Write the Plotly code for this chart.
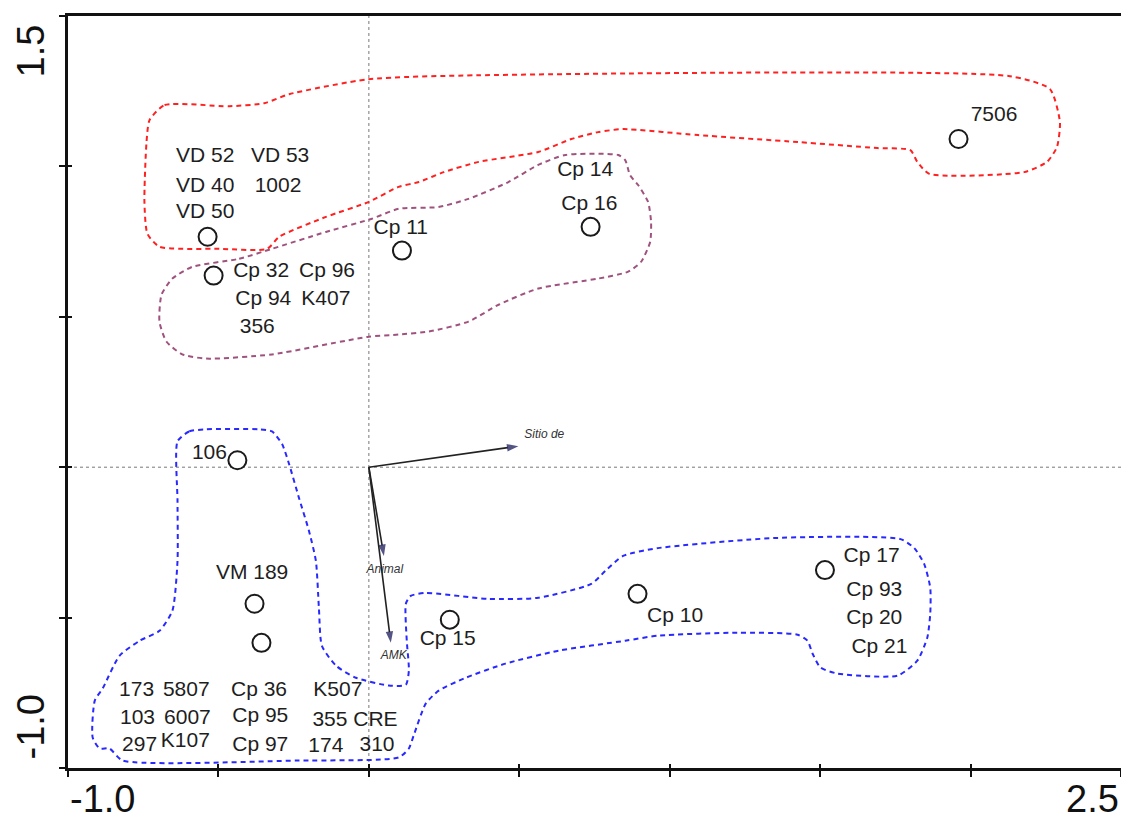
import plotly.graph_objects as go

# ---------------- data ----------------
# sample points (ordination scores)
pt_x = [-0.536, -0.516, 0.110, 0.737, 1.960, -0.437, -0.380, -0.357, 0.269, 0.893, 1.516]
pt_y = [0.766, 0.637, 0.720, 0.799, 1.091, 0.023, -0.454, -0.584, -0.507, -0.421, -0.342]

# labels for the points
lab_text = ["VD 52", "VD 53", "VD 40", "1002", "VD 50",
            "Cp 32", "Cp 96", "Cp 94", "K407", "356",
            "Cp 11", "Cp 14", "Cp 16", "7506", "106", "VM 189",
            "Cp 15", "Cp 10", "Cp 17", "Cp 93", "Cp 20", "Cp 21",
            "173", "5807", "Cp 36", "K507",
            "103", "6007", "Cp 95", "355 CRE",
            "297", "K107", "Cp 97", "174", "310"]
lab_x = [-0.544, -0.295, -0.544, -0.302, -0.544,
         -0.358, -0.139, -0.351, -0.143, -0.371,
         0.106, 0.719, 0.733, 2.078, -0.530, -0.388,
         0.262, 1.018, 1.671, 1.680, 1.680, 1.697,
         -0.772, -0.607, -0.365, -0.103,
         -0.769, -0.603, -0.361, -0.046,
         -0.762, -0.610, -0.361, -0.143, 0.027]
lab_y = [1.031, 1.031, 0.932, 0.932, 0.846,
         0.650, 0.650, 0.557, 0.557, 0.464,
         0.792, 0.985, 0.872, 1.167, 0.046, -0.355,
         -0.574, -0.497, -0.298, -0.411, -0.504, -0.600,
         -0.743, -0.743, -0.743, -0.743,
         -0.836, -0.836, -0.829, -0.842,
         -0.925, -0.912, -0.925, -0.928, -0.925]

# environmental vectors
vec_names = ["Sitio de", "Animal", "AMK"]
vec_x = [0.497, 0.050, 0.073]
vec_y = [0.070, -0.295, -0.584]
vec_lab_x = [0.583, 0.053, 0.083]
vec_lab_y = [0.106, -0.342, -0.627]

# group envelopes
red_x = [-0.729, -0.679, -0.464, -0.348, -0.265, 0.000, 0.365, 2.131, 2.264, 2.297, 2.287,
         2.254, 2.178, 1.863, 1.823, 1.800, 1.690, 1.425, 1.094, 0.845, 0.762, 0.673, 0.563,
         0.365, 0.249, 0.166, 0.099, 0.000, -0.143, -0.298, -0.338, -0.497, -0.696, -0.736,
         -0.746, -0.739, -0.729]
red_y = [1.154, 1.204, 1.200, 1.210, 1.240, 1.290, 1.303, 1.300, 1.257, 1.147, 1.064,
         1.015, 0.981, 0.975, 1.015, 1.054, 1.061, 1.081, 1.104, 1.124, 1.114, 1.091, 1.048,
         1.015, 0.981, 0.948, 0.932, 0.882, 0.832, 0.766, 0.726, 0.726, 0.733, 0.776,
         0.882, 1.081, 1.154]

pur_x = [-0.587, -0.431, -0.322, -0.143, 0.010, 0.099, 0.232, 0.331, 0.464, 0.563, 0.653,
         0.829, 0.852, 0.868, 0.895, 0.928, 0.938, 0.935, 0.905, 0.862, 0.762, 0.563, 0.431,
         0.331, 0.199, 0.099, 0.000, -0.322, -0.540, -0.620, -0.673, -0.696, -0.689, -0.653,
         -0.587]
pur_y = [0.666, 0.693, 0.726, 0.782, 0.826, 0.859, 0.865, 0.892, 0.948, 1.005, 1.038,
         1.038, 1.021, 0.971, 0.938, 0.882, 0.816, 0.749, 0.683, 0.650, 0.627, 0.594, 0.540,
         0.484, 0.451, 0.441, 0.434, 0.375, 0.361, 0.375, 0.418, 0.484, 0.574, 0.627,
         0.666]

blu_x = [-0.636, -0.597, -0.540, -0.365, -0.322, -0.288, -0.265, -0.232, -0.199, -0.176,
         -0.166, -0.156, -0.109, -0.043, 0.066, 0.123, 0.133, 0.126, 0.123, 0.139, 0.189,
         0.398, 0.563, 0.739, 0.786, 0.845, 0.961, 1.359, 1.767, 1.813, 1.846, 1.866, 1.866,
         1.856, 1.823, 1.757, 1.558, 1.501, 1.475, 1.458, 1.425, 1.226, 0.961, 0.852, 0.630,
         0.454, 0.322, 0.232, 0.189, 0.149, 0.133, 0.099, -0.232, -0.819, -0.862, -0.895,
         -0.918, -0.911, -0.885, -0.829, -0.762, -0.696, -0.653, -0.636, -0.636, -0.636]
blu_y = [0.086, 0.119, 0.126, 0.126, 0.119, 0.076, 0.010, -0.103, -0.212, -0.312,
         -0.468, -0.594, -0.660, -0.700, -0.726, -0.723, -0.676, -0.577, -0.454, -0.428, -0.418,
         -0.438, -0.434, -0.388, -0.345, -0.295, -0.269, -0.235, -0.239, -0.269, -0.322, -0.401,
         -0.487, -0.567, -0.643, -0.693, -0.686, -0.666, -0.620, -0.577, -0.557, -0.550, -0.560,
         -0.577, -0.610, -0.653, -0.700, -0.743, -0.786, -0.892, -0.935, -0.965, -0.975, -0.975,
         -0.935, -0.935, -0.899, -0.776, -0.736, -0.627, -0.577, -0.544, -0.477, -0.312, -0.113,
         0.086]

x_ticks = [-1.0, -0.5, 0.0, 0.5, 1.0, 1.5, 2.0, 2.5]
y_ticks = [-1.0, -0.5, 0.0, 0.5, 1.0, 1.5]
x_range = [-1.0, 2.5]
y_range = [-1.0, 1.5]

# ---------------- figure ----------------
fig = go.Figure()

TXT = "#1e1e1e"
FONT = "Liberation Sans, Arial, sans-serif"

for hx, hy, col in [(red_x, red_y, "#ff2020"), (pur_x, pur_y, "#a0527e"), (blu_x, blu_y, "#2828ff")]:
    fig.add_trace(go.Scatter(x=hx, y=hy, mode="lines",
                             line=dict(color=col, width=2, dash="5px,4px", shape="spline", smoothing=0.6),
                             hoverinfo="skip", showlegend=False))

# vectors
for i, name in enumerate(vec_names):
    fig.add_trace(go.Scatter(x=[0, vec_x[i]], y=[0, vec_y[i]], mode="lines+markers",
                             line=dict(color="#222222", width=1.6),
                             marker=dict(symbol="arrow", angleref="previous", size=[0, 12],
                                         color="#0c0c50", line=dict(width=0)),
                             showlegend=False, hoverinfo="skip"))
fig.add_trace(go.Scatter(x=vec_lab_x, y=vec_lab_y, mode="text", text=vec_names,
                         textfont=dict(family=FONT, size=12, color="#333333", style="italic"),
                         showlegend=False, hoverinfo="skip"))

# points
fig.add_trace(go.Scatter(x=pt_x, y=pt_y, mode="markers",
                         marker=dict(symbol="circle", size=18, color="white",
                                     line=dict(color="#1a1a1a", width=2)),
                         showlegend=False, hoverinfo="skip"))

# labels
fig.add_trace(go.Scatter(x=lab_x, y=lab_y, mode="text", text=lab_text,
                         textfont=dict(family=FONT, size=21, color=TXT),
                         showlegend=False, hoverinfo="skip"))

# invisible trace on overlay axes for inner ticks
fig.add_trace(go.Scatter(x=x_range, y=y_range, xaxis="x2", yaxis="y2", mode="markers",
                         marker=dict(opacity=0), showlegend=False, hoverinfo="skip"))

# zero reference lines
fig.add_shape(type="line", xref="x", yref="y", x0=0, x1=0, y0=y_range[0], y1=y_range[1],
              line=dict(color="#777777", width=1, dash="dot"), layer="below")
fig.add_shape(type="line", xref="x", yref="y", x0=x_range[0], x1=x_range[1], y0=0, y1=0,
              line=dict(color="#777777", width=1, dash="dot"), layer="below")

# axis end labels
AX_FONT = dict(family=FONT, size=38, color="#111111")
fig.add_annotation(x=x_range[0], y=0, xref="x", yref="paper", yshift=-8, text=f"{x_range[0]:.1f}",
                   showarrow=False, xanchor="left", yanchor="top", font=AX_FONT)
fig.add_annotation(x=x_range[1], y=0, xref="x", yref="paper", yshift=-8, text=f"{x_range[1]:.1f}",
                   showarrow=False, xanchor="right", yanchor="top", font=AX_FONT)
fig.add_annotation(x=0, y=y_range[1], xref="paper", yref="y", xshift=-15, yshift=-7, text=f"{y_range[1]:.1f}",
                   showarrow=False, xanchor="right", yanchor="top", textangle=-90, font=AX_FONT)
fig.add_annotation(x=0, y=y_range[0], xref="paper", yref="y", xshift=-15, yshift=6, text=f"{y_range[0]:.1f}",
                   showarrow=False, xanchor="right", yanchor="bottom", textangle=-90, font=AX_FONT)

axis_common = dict(showgrid=False, zeroline=False, showticklabels=False)
# page body has an 8px margin: size and margins compensate so the plot area lands at 68..1124 x 14..768
fig.update_layout(
    width=1121, height=814,
    margin=dict(l=60, r=5, t=6, b=54),
    paper_bgcolor="white", plot_bgcolor="white",
    xaxis=dict(range=x_range, tickvals=x_ticks, ticks="outside", ticklen=6, tickwidth=2,
               tickcolor="#111111", showline=True, linecolor="#111111", linewidth=2.5,
               mirror=True, **axis_common),
    yaxis=dict(range=y_range, tickvals=y_ticks, ticks="outside", ticklen=6, tickwidth=2,
               tickcolor="#111111", showline=True, linecolor="#111111", linewidth=2.5,
               mirror=True, **axis_common),
    xaxis2=dict(range=x_range, tickvals=x_ticks, ticks="inside", ticklen=4, tickwidth=2,
                tickcolor="#111111", showline=False, overlaying="x", anchor="y2", **axis_common),
    yaxis2=dict(range=y_range, tickvals=y_ticks, ticks="inside", ticklen=4, tickwidth=2,
                tickcolor="#111111", showline=False, overlaying="y", anchor="x2", **axis_common),
)

fig.write_html("out.html")
